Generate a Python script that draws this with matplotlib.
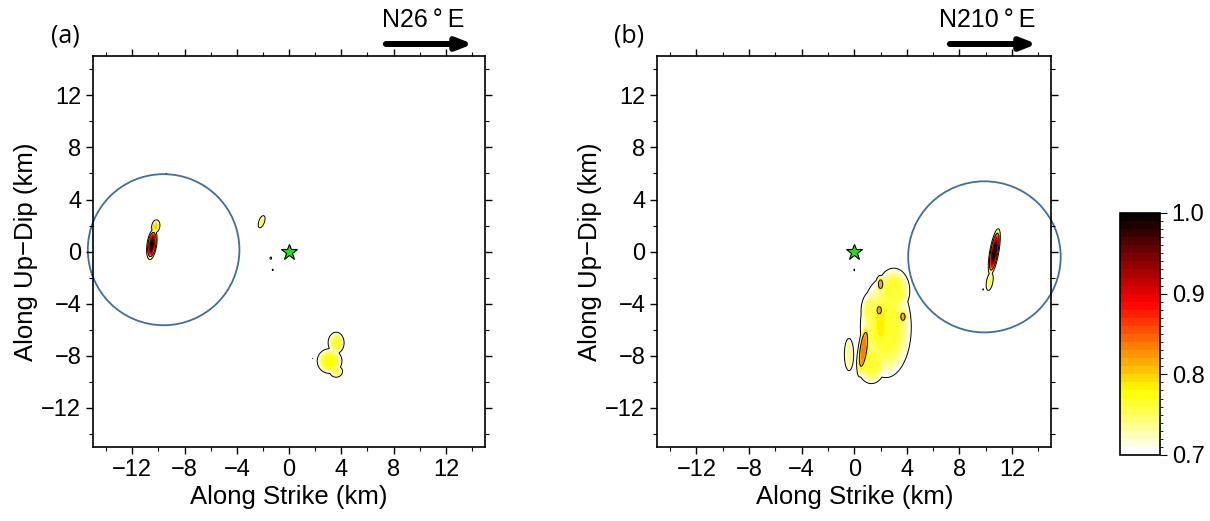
import numpy as np
import matplotlib
matplotlib.use("Agg")
import matplotlib.pyplot as plt
from matplotlib.colors import BoundaryNorm, ListedColormap
from matplotlib.patches import Circle

plt.rcParams["font.family"] = ["Liberation Sans", "DejaVu Sans"]

# semblance patches: centre (km), widths (km), peak value, tilt (deg)
a_x = [-10.5, -10.2, -2.1, -1.4, -1.25, 3.6, 3.1, 3.6, 1.8, -9.4]
a_y = [0.55, 1.95, 2.3, -0.5, -1.4, -7.0, -8.4, -9.2, -8.2, 6.0]
a_sx = [0.27, 0.28, 0.22, 0.14, 0.12, 0.6, 0.9, 0.5, 0.07, 0.07]
a_sy = [0.85, 0.45, 0.5, 0.2, 0.14, 0.8, 0.9, 0.45, 0.07, 0.07]
a_peak = [1.0, 0.8, 0.76, 0.705, 0.703, 0.77, 0.78, 0.76, 0.703, 0.703]
a_tilt = [-8, -10, -20, 0, 0, 0, 0, 0, 0, 0]

b_x = [2.4, 3.0, 1.3, 1.3, 2.0, 0.7, 2.0, 1.9, 3.7, -0.4, 0.0, 10.65, 10.3, 9.8]
b_y = [-5.8, -3.0, -8.5, -4.6, -5.5, -7.5, -2.5, -4.5, -5.0, -7.9, -1.4, 0.0, -2.3, -2.9]
b_sx = [1.9, 1.2, 1.1, 0.8, 0.6, 0.35, 0.3, 0.3, 0.3, 0.4, 0.1, 0.25, 0.25, 0.08]
b_sy = [3.8, 1.7, 1.6, 1.6, 2.0, 1.8, 0.6, 0.5, 0.5, 1.4, 0.18, 1.3, 0.7, 0.14]
b_peak = [0.77, 0.77, 0.77, 0.76, 0.79, 0.84, 0.815, 0.815, 0.815, 0.74, 0.703, 1.0, 0.76, 0.703]
b_tilt = [0, 0, 0, 0, 0, -8, 0, 0, 0, 0, 0, -10, -10, 0]

# epicentre and circle of each event
star_x, star_y = 0.0, 0.0
circ_a = (-9.6, 0.15, 5.8)
circ_b = (9.9, -0.4, 5.8)

grid = np.linspace(-15, 15, 601)
gx, gy = np.meshgrid(grid, grid)


def field(xs, ys, sxs, sys_, peaks, tilts, p=1.6):
    z = np.full(gx.shape, 0.6)
    for x0, y0, sx, sy, pk, t in zip(xs, ys, sxs, sys_, peaks, tilts):
        th = np.radians(t)
        dx, dy = gx - x0, gy - y0
        u = dx * np.cos(th) + dy * np.sin(th)
        v = -dx * np.sin(th) + dy * np.cos(th)
        q = (u / sx) ** 2 + (v / sy) ** 2
        g = 0.6 + (pk - 0.6) * np.exp(-0.5 * q ** p)
        z = np.maximum(z, g)
    return z


base = plt.get_cmap("hot_r")
cmap = ListedColormap(base(np.linspace(0.0, 1.0, 30)))
levels = np.linspace(0.7, 1.0, 31)
norm = BoundaryNorm(levels, cmap.N)

fig = plt.figure(figsize=(12.1, 5.21), dpi=100)
ax_a = fig.add_axes([0.0769, 0.142, 0.324, 0.750])
ax_b = fig.add_axes([0.5430, 0.142, 0.326, 0.750])
cax = fig.add_axes([0.9256, 0.1267, 0.033, 0.4645])

panels = [
    (ax_a, field(a_x, a_y, a_sx, a_sy, a_peak, a_tilt), circ_a, "(a)", "N26°E", 0.0769),
    (ax_b, field(b_x, b_y, b_sx, b_sy, b_peak, b_tilt), circ_b, "(b)", "N210°E", 0.5430),
]

ticks = np.arange(-12, 13, 4)
tick_txt = [f"{v:d}".replace("-", "\u2212") for v in ticks]

for ax, z, circ, tag, azim, left in panels:
    zm = np.ma.masked_less(z, 0.7)
    im = ax.pcolormesh(gx, gy, zm, cmap=cmap, norm=norm, shading="auto")
    ax.contour(gx, gy, z, levels=[0.7, 0.8], colors="k", linewidths=0.7)
    ax.add_patch(Circle(circ[:2], circ[2], fill=False, ec="#3f6f9a", lw=1.3, clip_on=False))
    ax.plot(star_x, star_y, marker="*", ms=12, mfc="#22dd22", mec="k", mew=0.8)
    ax.set_xlim(-15, 15)
    ax.set_ylim(-15, 15)
    ax.set_xticks(ticks)
    ax.set_yticks(ticks)
    ax.set_xticks(np.arange(-14, 15, 2), minor=True)
    ax.set_yticks(np.arange(-14, 15, 2), minor=True)
    ax.set_xticklabels(tick_txt)
    ax.set_yticklabels(tick_txt)
    ax.tick_params(which="both", direction="out", top=True, right=True, labelsize=17)
    ax.tick_params(which="major", length=5, width=1)
    ax.tick_params(which="minor", length=3, width=0.8)
    for s in ax.spines.values():
        s.set_linewidth(1.2)
    ax.set_xlabel("Along Strike (km)", fontsize=18.5, labelpad=3)
    ax.set_ylabel("Along Up\u2212Dip (km)", fontsize=18.5, labelpad=2)

    fig.text(left - 0.023, 0.93, tag, fontsize=18, family=["Open Sans", "DejaVu Sans"],
             ha="center", va="center")
    y_arr = 1 - 44 / 521
    x0 = left + 0.242
    fig.text(x0 + 0.031, 0.962, azim.replace("°", "\u2009°\u2009"), fontsize=18,
             ha="center", va="center")
    ax.annotate("", xy=(x0 + 0.072, y_arr), xytext=(x0, y_arr), xycoords="figure fraction",
                arrowprops=dict(arrowstyle="-|>,head_length=0.9,head_width=0.35",
                                lw=4.3, color="k", shrinkA=0, shrinkB=0))

cb = fig.colorbar(im, cax=cax, ticks=[0.7, 0.8, 0.9, 1.0])
cb.ax.tick_params(labelsize=17, length=5, direction="out")
cb.ax.set_yticklabels(["0.7", "0.8", "0.9", "1.0"])
cb.outline.set_linewidth(1.2)

fig.savefig("out.png", dpi=100)
